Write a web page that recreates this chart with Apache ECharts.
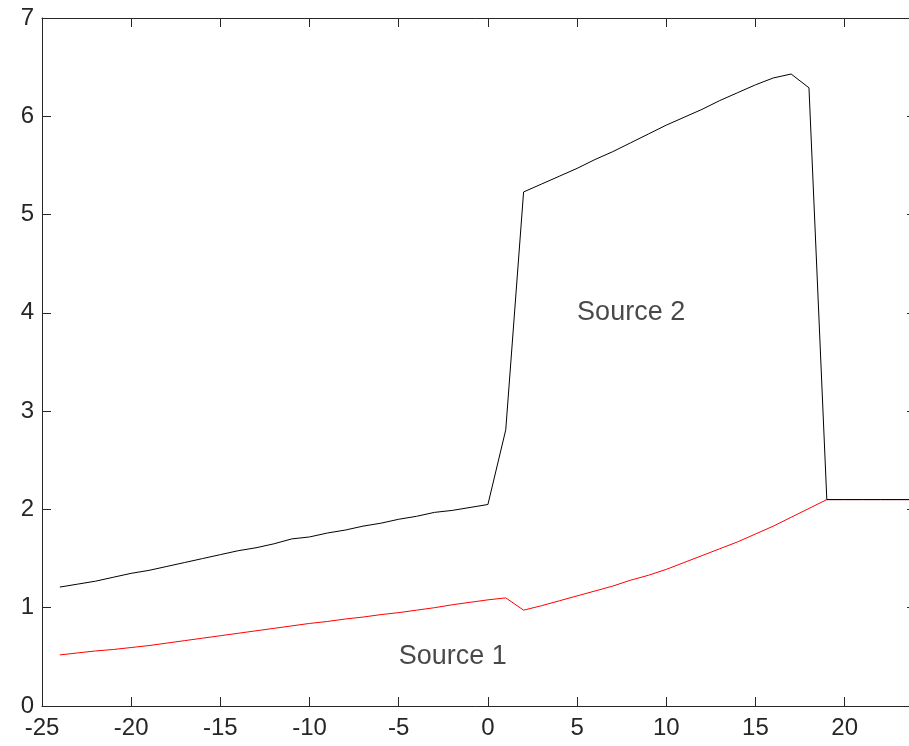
<!DOCTYPE html>
<html>
<head>
<meta charset="utf-8">
<script src="https://cdn.jsdelivr.net/npm/echarts@6/dist/echarts.min.js"></script>
<style>
  html, body { margin: 0; padding: 0; background: #fff; }
  #chart { width: 909px; height: 746px; }
</style>
</head>
<body>
<div id="chart"></div>
<script>
// x positions shared by both sources
const xValues = [-24, -23, -22, -21, -20, -19, -18, -17, -16, -15, -14, -13, -12, -11, -10,
  -9, -8, -7, -6, -5, -4, -3, -2, -1, 0, 1, 2, 3, 4, 5, 6, 7, 8, 9, 10,
  11, 12, 13, 14, 15, 16, 17, 18, 19, 20, 21, 22, 23, 24];

const source1 = [0.52, 0.54, 0.56, 0.575, 0.595, 0.615, 0.64, 0.665, 0.69, 0.715, 0.74, 0.765, 0.79, 0.815, 0.84,
  0.86, 0.885, 0.905, 0.93, 0.95, 0.975, 1.0, 1.03, 1.055, 1.08, 1.10, 0.975, 1.02, 1.07, 1.12, 1.17, 1.22, 1.28, 1.33, 1.39,
  1.46, 1.53, 1.60, 1.67, 1.75, 1.83, 1.92, 2.01, 2.10, 2.10, 2.10, 2.10, 2.10, 2.10];

const source2 = [1.21, 1.24, 1.27, 1.31, 1.35, 1.38, 1.42, 1.46, 1.50, 1.54, 1.58, 1.61, 1.65, 1.70, 1.72,
  1.76, 1.79, 1.83, 1.86, 1.90, 1.93, 1.97, 1.99, 2.02, 2.05, 2.81, 5.23, 5.31, 5.39, 5.47, 5.56, 5.64, 5.73, 5.82, 5.91,
  5.99, 6.07, 6.16, 6.24, 6.32, 6.39, 6.43, 6.29, 2.10, 2.10, 2.10, 2.10, 2.10, 2.10];

const labelNames = ['Source 1', 'Source 2'];
const labelX = [-5, 5];
const labelY = [0.5, 4];

const axisColor = '#262626';
const fontFamily = 'Liberation Sans, Arial, Helvetica, sans-serif';

const chart = echarts.init(document.getElementById('chart'));

function xAxisCfg(position, showLabels) {
  return {
    type: 'value', position: position, min: -25, max: 24, interval: 5,
    axisLine: { show: true, onZero: false, lineStyle: { color: axisColor, width: 1 } },
    axisTick: { show: true, inside: true, length: 9, lineStyle: { color: axisColor } },
    axisLabel: {
      show: showLabels, color: axisColor, fontSize: 24, fontFamily: fontFamily, margin: 10,
      formatter: v => (v % 5 === 0 ? String(v) : '')
    },
    splitLine: { show: false }
  };
}

function yAxisCfg(position, showLabels) {
  return {
    type: 'value', position: position, min: 0, max: 7, interval: 1,
    axisLine: { show: true, onZero: false, lineStyle: { color: axisColor, width: 1 } },
    axisTick: { show: true, inside: true, length: 9, lineStyle: { color: axisColor } },
    axisLabel: { show: showLabels, color: axisColor, fontSize: 24, fontFamily: fontFamily, margin: 8 },
    splitLine: { show: false }
  };
}

chart.setOption({
  animation: false,
  backgroundColor: '#fff',
  grid: { left: 42, top: 18, right: -7, bottom: 40, outerBoundsMode: 'none', containLabel: false },
  xAxis: [xAxisCfg('bottom', true), xAxisCfg('top', false)],
  yAxis: [yAxisCfg('left', true), yAxisCfg('right', false)],
  series: [
    {
      name: 'Source 1', type: 'line', symbol: 'none',
      lineStyle: { color: '#ff0000', width: 1 },
      data: xValues.map((x, i) => [x, source1[i]])
    },
    {
      name: 'Source 2', type: 'line', symbol: 'none',
      lineStyle: { color: '#000000', width: 1 },
      data: xValues.map((x, i) => [x, source2[i]])
    },
    {
      type: 'scatter', symbolSize: 0, silent: true,
      label: {
        show: true, position: 'right', distance: 0, color: '#1a1a1a',
        fontSize: 27, fontFamily: fontFamily, formatter: p => p.name
      },
      data: labelNames.map((n, i) => ({ name: n, value: [labelX[i], labelY[i]] }))
    }
  ]
});
</script>
</body>
</html>
